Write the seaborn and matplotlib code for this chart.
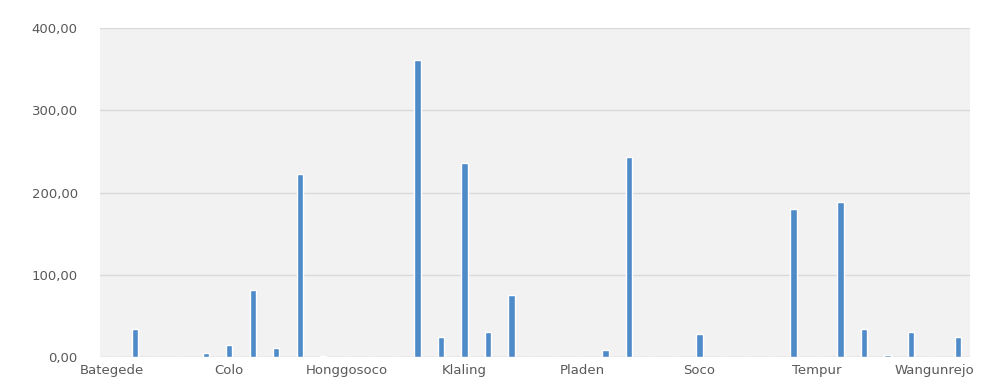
import matplotlib
matplotlib.use("Agg")
import matplotlib.pyplot as plt
import seaborn as sns
import pandas as pd

categories = [
    "Bategede", "Bermi", "Bulungcangkring", "Cendono", "Clering",
    "Colo", "Cranggang", "Dukuhwaringin", "Gondoharum", "Gondosari",
    "Honggosoco", "Japan", "Jurang", "Kajar", "Kandangmas",
    "Klaling", "Kuwukan", "Lau", "Margorejo", "Menawan",
    "Pladen", "Puyoh", "Rahtawu", "Rejosari", "Sadang",
    "Soco", "Sumberejo", "Sumbersari", "Tanjungrejo", "Tegalombo",
    "Tempur", "Terban", "Tergo", "Ternadi", "Tunahan",
    "Wangunrejo", "Wonosoco",
]
values = [
    0, 34, 0, 0, 5,
    15, 81, 11, 223, 1,
    0, 0, 0, 361, 24,
    236, 31, 76, 0, 0,
    0, 9, 243, 0, 0,
    28, 0, 0, 0, 180,
    0, 188, 34, 2, 31,
    0, 24,
]
tick_labels = ["Bategede", "Colo", "Honggosoco", "Klaling", "Pladen",
               "Soco", "Tempur", "Wangunrejo"]
y_ticks = [0, 100, 200, 300, 400]

df = pd.DataFrame({"desa": categories, "nilai": values})

sns.set_theme(style="white")
plt.rcParams["font.family"] = ["DejaVu Sans"]

fig = plt.figure(figsize=(10.02, 3.86), dpi=100)
ax = fig.add_axes([0.0998, 0.075, 0.868, 0.852])
ax.set_facecolor("#F2F2F2")

sns.barplot(data=df, x="desa", y="nilai", order=categories, color="#4F8BC9",
            width=0.27, saturation=1, ax=ax, zorder=3)

ax.set_ylim(0, 400)
ax.set_xlim(-0.5, len(categories) - 0.5)
ax.set_yticks(y_ticks)
ax.set_yticklabels([f"{v:.2f}".replace(".", ",") for v in y_ticks])
pos = [categories.index(t) for t in tick_labels]
ax.set_xticks(pos)
ax.set_xticklabels(tick_labels)
ax.yaxis.grid(True, color="#D9D9D9", linewidth=1.0, zorder=0)
ax.set_axisbelow(True)
for s in ax.spines.values():
    s.set_visible(False)
ax.axhline(0, color="#D9D9D9", linewidth=1.0, zorder=2)
ax.tick_params(axis="both", length=0, colors="#595959", labelsize=9.5)
ax.tick_params(axis="x", pad=5)
ax.tick_params(axis="y", pad=16)
ax.set_xlabel("")
ax.set_ylabel("")

fig.savefig("out.png", dpi=100, facecolor="white")
